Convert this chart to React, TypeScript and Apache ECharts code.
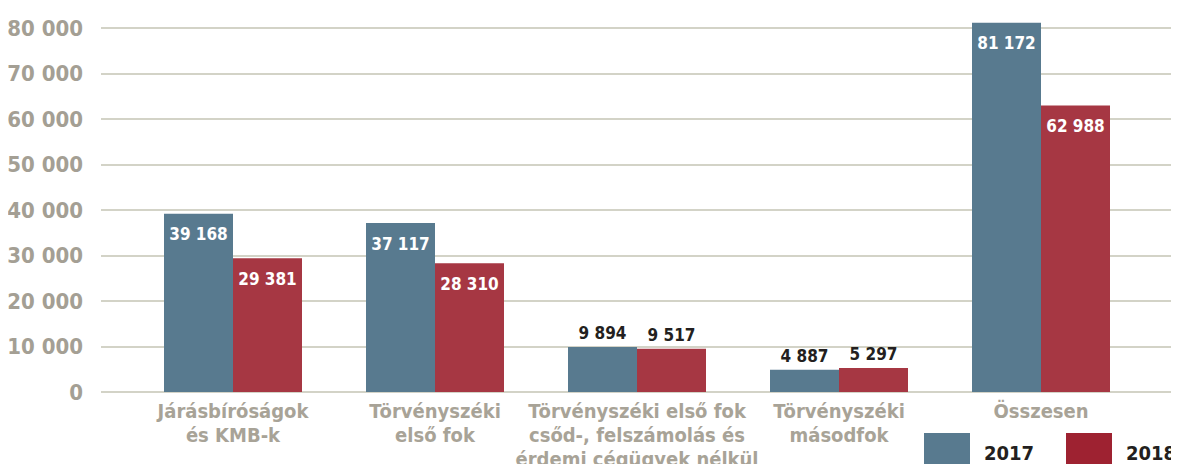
import React, { useEffect, useRef } from "react";
import * as echarts from "echarts";

const categories = [
  "Járásbíróságok\nés KMB-k",
  "Törvényszéki\nelső fok",
  "Törvényszéki első fok\ncsőd-, felszámolás és\nérdemi cégügyek nélkül",
  "Törvényszéki\nmásodfok",
  "Összesen",
];
const values2017 = [39168, 37117, 9894, 4887, 81172];
const values2018 = [29381, 28310, 9517, 5297, 62988];
const seriesNames = ["2017", "2018"];

const FONT = "'DejaVu Sans Condensed', 'Liberation Sans Narrow', sans-serif";
const C2017 = "#587a8f";
const C2018 = "#a63743";
const C2018_LEGEND = "#9e2231";

const fmt = (v: number) => String(v).replace(/\B(?=(\d{3})+(?!\d))/g, " ");

function makeData(values: number[]) {
  return values.map((v) => {
    const inside = v > 20000;
    return {
      value: v,
      label: inside
        ? { position: "insideTop", distance: 12, color: "#ffffff" }
        : { position: "top", distance: 5, color: "#231f20" },
    };
  });
}

const legendText = {
  fontFamily: FONT,
  fontWeight: "bold",
  fontSize: 20,
  color: "#231f20",
  padding: [0, 0, 0, 9],
};

export default function App() {
  const ref = useRef<HTMLDivElement>(null);
  useEffect(() => {
    if (!ref.current) return;
    const chart = echarts.init(ref.current, undefined, { renderer: "svg" });
    const labelCommon = {
      show: true,
      fontFamily: FONT,
      fontWeight: "bold",
      fontSize: 17,
      formatter: (p: any) => fmt(p.value),
    };
    chart.setOption({
      animation: false,
      textStyle: { fontFamily: FONT },
      legend: [
        {
          left: 924,
          top: 433,
          padding: 0,
          itemWidth: 46,
          itemHeight: 40,
          icon: "rect",
          data: [{ name: seriesNames[0], itemStyle: { color: C2017 } }],
          textStyle: legendText,
        },
        {
          left: 1066,
          top: 433,
          padding: 0,
          itemWidth: 46,
          itemHeight: 40,
          icon: "rect",
          data: [{ name: seriesNames[1], itemStyle: { color: C2018_LEGEND } }],
          textStyle: legendText,
        },
      ],
      grid: [
        { left: 101, right: 0, top: 28, bottom: 80, outerBoundsMode: "none", containLabel: false },
        { left: 132, right: 37, top: 28, bottom: 80, outerBoundsMode: "none", containLabel: false },
      ],
      xAxis: [
        {
          type: "category",
          gridIndex: 0,
          data: categories,
          show: false,
        },
        {
          type: "category",
          gridIndex: 1,
          data: categories,
          axisLine: { show: false },
          axisTick: { show: false },
          axisLabel: {
            interval: 0,
            margin: 7,
            fontFamily: FONT,
            fontWeight: "bold",
            fontSize: 20,
            lineHeight: 24,
            color: "#a8a397",
          },
        },
      ],
      yAxis: [
        {
          type: "value",
          gridIndex: 0,
          min: 0,
          max: 80000,
          interval: 10000,
          axisLine: { show: false },
          axisTick: { show: false },
          splitLine: { lineStyle: { color: "#d3d3c7", width: 2 } },
          axisLabel: {
            margin: 18,
            fontFamily: FONT,
            fontWeight: "bold",
            fontSize: 22,
            color: "#a49f94",
            formatter: (v: number) => fmt(v),
          },
        },
        {
          type: "value",
          gridIndex: 1,
          min: 0,
          max: 80000,
          interval: 10000,
          show: false,
          splitLine: { show: false },
        },
      ],
      series: [
        {
          name: seriesNames[0],
          type: "bar",
          xAxisIndex: 1,
          yAxisIndex: 1,
          barWidth: 69,
          barGap: "0%",
          clip: false,
          itemStyle: { color: C2017 },
          label: labelCommon,
          data: makeData(values2017),
        },
        {
          name: seriesNames[1],
          type: "bar",
          xAxisIndex: 1,
          yAxisIndex: 1,
          barWidth: 69,
          barGap: "0%",
          clip: false,
          itemStyle: { color: C2018 },
          label: labelCommon,
          data: makeData(values2018),
        },
      ],
    });
    return () => chart.dispose();
  }, []);
  return <div ref={ref} style={{ width: 1179, height: 472, margin: -8 }} />;
}
